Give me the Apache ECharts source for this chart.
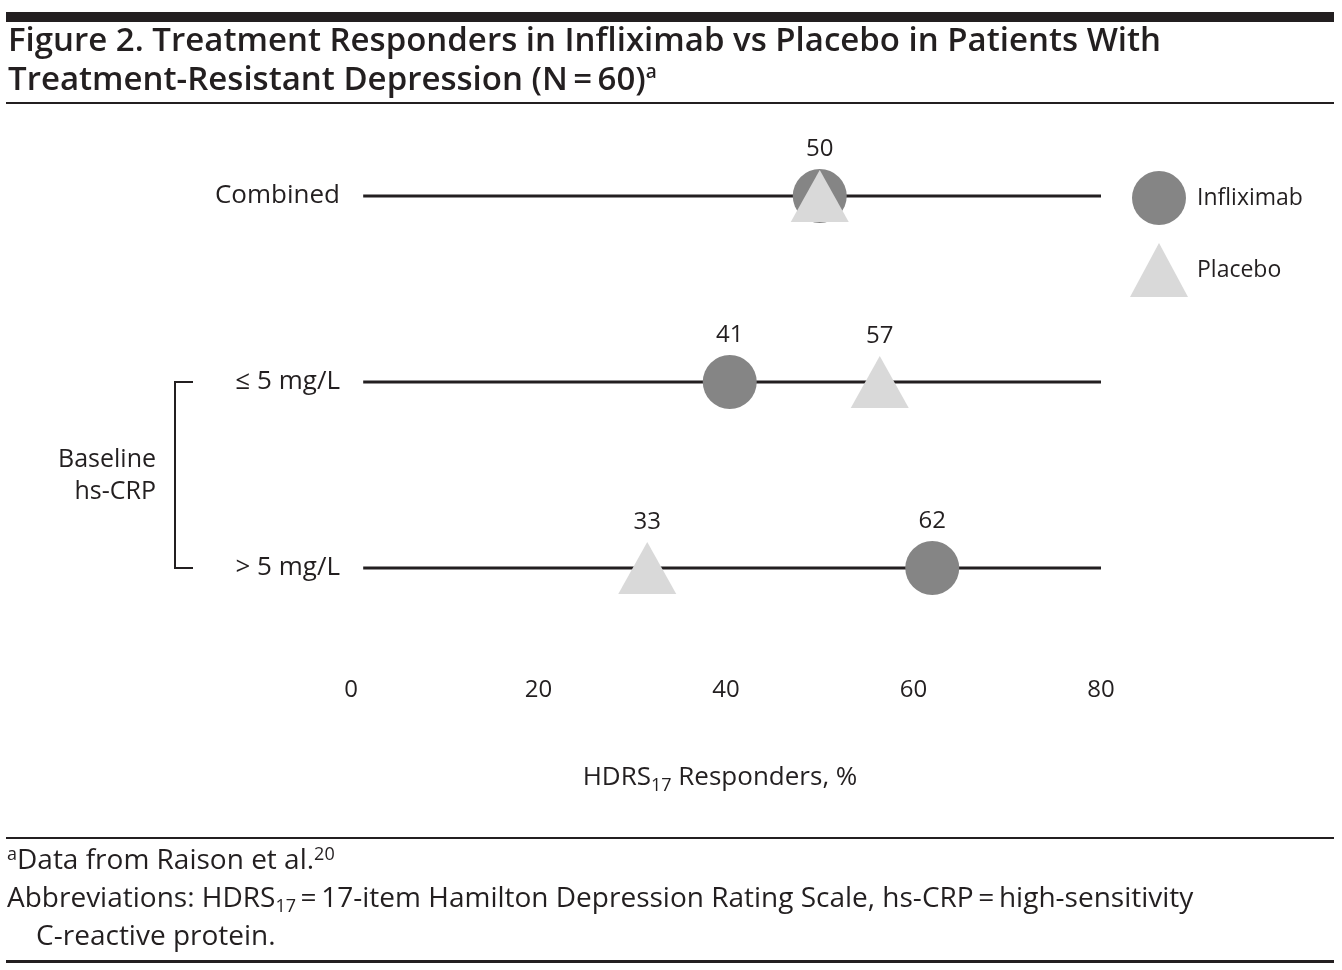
<!DOCTYPE html>
<html><head><meta charset="utf-8">
<script src="https://cdn.jsdelivr.net/npm/echarts@6/dist/echarts.min.js"></script>
<style>html,body{margin:0;padding:0;background:#fff}#c{width:1342px;height:970px}</style>
</head><body><div id="c"></div>
<script>
// ---- data ----
var rows = ['Combined', '\u2264 5 mg/L', '> 5 mg/L'];
var infliximabPos = [50, 40.4, 62];      // marker positions
var placeboPos = [50, 56.4, 31.6];
var infliximabLabels = ['50', '41', '62'];
var placeboLabels = ['', '57', '33'];
var xTicks = [0, 20, 40, 60, 80];
var rowLineRange = [1.3, 80];

var FONT = '"Open Sans", "Noto Sans", sans-serif';
var INK = '#231f20';
var chart = echarts.init(document.getElementById('c'), null, {renderer: 'canvas'});

var lineSeries = rows.map(function (r, i) {
  return {
    type: 'line', silent: true, symbol: 'none', z: 1,
    lineStyle: {color: INK, width: 3},
    data: [[rowLineRange[0], i], [rowLineRange[1], i]]
  };
});

var option = {
  animation: false,
  backgroundColor: '#fff',
  textStyle: {fontFamily: FONT},
  grid: {left: 351, right: 241, top: 103, bottom: 309},
  xAxis: {
    type: 'value', min: xTicks[0], max: xTicks[xTicks.length - 1], interval: 20,
    axisLine: {show: false}, axisTick: {show: false}, splitLine: {show: false},
    axisLabel: {color: INK, fontSize: 24, margin: 17, fontFamily: FONT},
    name: '{a|HDRS}{s|17}{a| Responders, %}',
    nameLocation: 'middle', nameGap: 100,
    nameTextStyle: {padding: [0, 12, 0, 0], rich: {
      a: {fontSize: 26, color: INK, fontFamily: FONT},
      s: {fontSize: 18, color: INK, fontFamily: FONT, padding: [16, 0, 0, 0]}
    }}
  },
  yAxis: {
    type: 'category', data: rows, inverse: true, boundaryGap: true,
    axisLine: {show: false}, axisTick: {show: false}, splitLine: {show: false},
    axisLabel: {color: INK, fontSize: 26, margin: 11, fontFamily: FONT}
  },
  legend: {
    orient: 'vertical', left: 1125, top: 166,
    itemWidth: 58, itemHeight: 54, itemGap: 18,
    data: [{name: 'Infliximab', icon: 'circle'}, {name: 'Placebo', icon: 'triangle'}],
    textStyle: {fontSize: 23, color: INK, fontFamily: FONT, padding: [0, 0, 0, 4]},
    selectedMode: false
  },
  series: lineSeries.concat([
    {
      name: 'Infliximab', type: 'scatter', symbol: 'circle', symbolSize: 54, z: 3,
      itemStyle: {color: '#858585', opacity: 1},
      label: {show: true, position: 'top', distance: 8, fontSize: 24, color: INK, fontFamily: FONT,
        formatter: function (p) { return infliximabLabels[p.dataIndex]; }},
      data: infliximabPos.map(function (v, i) { return [v, i]; })
    },
    {
      name: 'Placebo', type: 'scatter', symbol: 'triangle', symbolSize: [58, 52], z: 4,
      itemStyle: {color: '#d9d9d9', opacity: 1},
      label: {show: true, position: 'top', distance: 8, fontSize: 24, color: INK, fontFamily: FONT,
        formatter: function (p) { return placeboLabels[p.dataIndex]; }},
      data: placeboPos.map(function (v, i) { return [v, i]; })
    }
  ]),
  graphic: [
    {type: 'rect', shape: {x: 6, y: 12, width: 1328, height: 10}, style: {fill: INK}},
    {type: 'text', x: 8, y: 22, style: {
      text: 'Figure 2. Treatment Responders in Infliximab vs Placebo in Patients With\nTreatment-Resistant Depression (N\u2009=\u200960){sup|a}',
      font: '600 33px ' + FONT, fill: INK, lineHeight: 39,
      rich: {sup: {font: '600 19px ' + FONT, fill: INK, padding: [0, 0, 16, 0]}}
    }},
    {type: 'rect', shape: {x: 6, y: 102, width: 1328, height: 2}, style: {fill: INK}},
    // bracket
    {type: 'polyline', shape: {points: [[193, 382], [175, 382], [175, 568], [193, 568]]},
      style: {stroke: INK, lineWidth: 2, fill: null}},
    {type: 'text', x: 156, y: 476, style: {
      text: 'Baseline\nhs-CRP', font: '25px ' + FONT, fill: INK, align: 'right', verticalAlign: 'middle', lineHeight: 32
    }},
    // footer
    {type: 'rect', shape: {x: 6, y: 837, width: 1328, height: 2}, style: {fill: INK}},
    {type: 'text', x: 7, y: 842, style: {
      text: '{sup|a}{t|Data from Raison et al.}{sup|20}\n{t|Abbreviations: HDRS}{sub|17}{t|\u2009=\u200917-item Hamilton Depression Rating Scale, hs-CRP\u2009=\u2009high-sensitivity}\n{t|    C-reactive protein.}',
      rich: {
        t: {font: '28px ' + FONT, fill: INK, lineHeight: 38},
        sup: {font: '18px ' + FONT, fill: INK, padding: [0, 0, 13, 0], lineHeight: 38},
        sub: {font: '18px ' + FONT, fill: INK, padding: [15, 0, 0, 0], lineHeight: 38}
      }
    }},
    {type: 'rect', shape: {x: 6, y: 960, width: 1328, height: 3}, style: {fill: INK}}
  ]
};
chart.setOption(option);
</script></body></html>
